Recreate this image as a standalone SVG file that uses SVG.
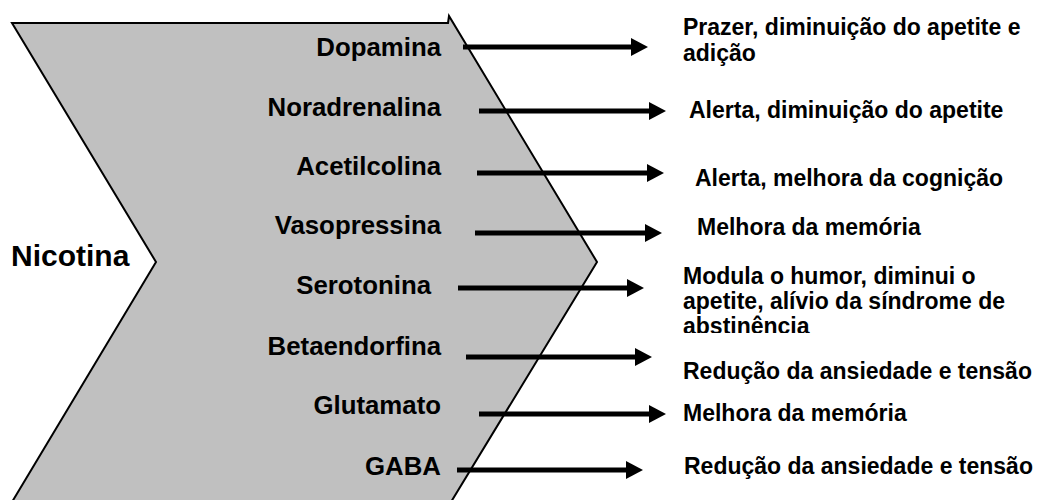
<svg xmlns="http://www.w3.org/2000/svg" width="1042" height="500" viewBox="0 0 1042 500">
<style>
text{font-family:"Liberation Sans",Arial,sans-serif;font-weight:bold;fill:#000}
.l{font-size:25.8px;text-anchor:end}
.r{font-size:23px}
.c{stroke:#000;stroke-width:5;fill:none}
</style>
<defs>
<marker id="ah" markerWidth="18" markerHeight="18" refX="1" refY="9" orient="auto" markerUnits="userSpaceOnUse"><path d="M0,0 L17,9 L0,18 z" fill="#000"/></marker>
<clipPath id="clipS"><rect x="600" y="255" width="442" height="78"/></clipPath>
</defs>
<rect width="1042" height="500" fill="#fff"/>
<g id="chevron">
<polygon points="12,23 448,23 449,16 597,262 451,502 12,502 156,262" fill="#c0c0c0" stroke="#000" stroke-width="2" stroke-linejoin="miter"/>
</g>
<g id="nicotina"><text x="11" y="266" style="font-size:30px">Nicotina</text></g>
<g id="connectors">
<line class="c" x1="463" y1="47" x2="632" y2="47" marker-end="url(#ah)"/>
<line class="c" x1="479" y1="111" x2="650" y2="111" marker-end="url(#ah)"/>
<line class="c" x1="477" y1="173" x2="648" y2="173" marker-end="url(#ah)"/>
<line class="c" x1="475" y1="233" x2="646" y2="233" marker-end="url(#ah)"/>
<line class="c" x1="458" y1="288" x2="628" y2="288" marker-end="url(#ah)"/>
<line class="c" x1="466" y1="357" x2="636" y2="357" marker-end="url(#ah)"/>
<line class="c" x1="479" y1="414" x2="650" y2="414" marker-end="url(#ah)"/>
<line class="c" x1="457" y1="470" x2="627" y2="470" marker-end="url(#ah)"/>
</g>
<g id="dopamina"><text class="l" x="441" y="56">Dopamina</text><text class="r" x="683" y="35">Prazer, diminuição do apetite e</text><text class="r" x="683" y="61">adição</text></g>
<g id="noradrenalina"><text class="l" x="441" y="116">Noradrenalina</text><text class="r" x="689" y="118">Alerta, diminuição do apetite</text></g>
<g id="acetilcolina"><text class="l" x="441" y="175">Acetilcolina</text><text class="r" x="695" y="186">Alerta, melhora da cognição</text></g>
<g id="vasopressina"><text class="l" x="441" y="234">Vasopressina</text><text class="r" x="697" y="235">Melhora da memória</text></g>
<g id="serotonina"><text class="l" x="431" y="294">Serotonina</text><g clip-path="url(#clipS)"><text class="r" x="683" y="284">Modula o humor, diminui o</text><text class="r" x="683" y="309">apetite, alívio da síndrome de</text><text class="r" x="683" y="334">abstinência</text></g></g>
<g id="betaendorfina"><text class="l" x="441" y="355">Betaendorfina</text><text class="r" x="683" y="379">Redução da ansiedade e tensão</text></g>
<g id="glutamato"><text class="l" x="441" y="414">Glutamato</text><text class="r" x="683" y="421">Melhora da memória</text></g>
<g id="gaba"><text class="l" x="441" y="475">GABA</text><text class="r" x="684" y="474">Redução da ansiedade e tensão</text></g>
</svg>
